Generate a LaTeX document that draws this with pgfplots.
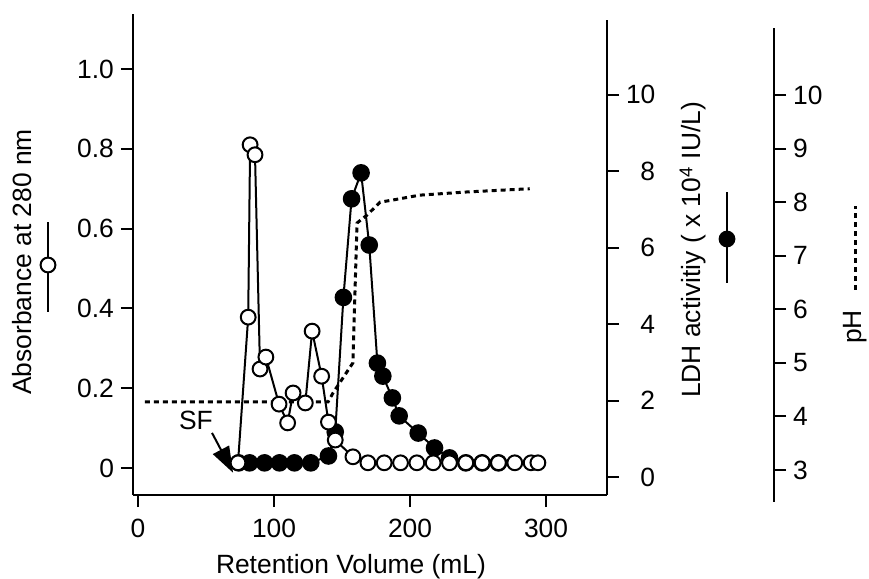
\documentclass[border=0pt]{standalone}
\usepackage{fontspec}
\setmainfont{Liberation Sans}
\usepackage{pgfplots}
\pgfplotsset{compat=1.18}
\usetikzlibrary{arrows.meta}
\newcommand\ff{\fontsize{13.2pt}{15.5pt}\selectfont}
\begin{document}
\begin{tikzpicture}
\path[use as bounding box] (-66.5pt,-42pt) rectangle (368pt,247.5pt);
\pgfplotsset{
 every axis/.append style={scale only axis, font=\ff,
   /pgf/number format/assume math mode=true,
   tick align=outside, major tick length=6pt,
   axis line style={line width=1pt},
   every tick/.style={black,line width=1pt}, clip=false},
}
% pH axis
\begin{axis}[at={(0pt,-3.5pt)}, anchor=south west, width=320.5pt, height=237pt,
 xmin=-3.7, xmax=467.6, ymin=2.403, ymax=11.25,
 axis x line=none, axis y line*=right, ytick={3,4,...,10}]
\addplot[black, line width=1.5pt, dash pattern=on 2.5pt off 2pt] coordinates {
(5,4.27) (139.7,4.27) (143.4,4.44) (158,5.0) (161,7.61) (168.4,7.76) (178,8.0) (187.5,8.04) (207,8.13) (242,8.19) (288,8.25)};
\end{axis}
% LDH axis
\begin{axis}[at={(0pt,0pt)}, anchor=south west, width=237pt, height=237.5pt,
 xmin=-3.7, xmax=344.8, ymin=-0.471, ymax=11.96,
 axis x line=none, axis y line*=right, ytick={0,2,...,10},
 yticklabel style={text width=14.5pt, align=right}]
\addplot[black, line width=1pt, mark=*, mark size=3.9pt, mark options={fill=black}] coordinates {
(74,0.37) (82,0.37) (93,0.37) (104,0.37) (115,0.37) (127,0.37) (140,0.55) (145,1.18) (151,4.7) (157,7.28) (164,7.96) (170,6.07) (176,2.98) (180,2.64) (187,2.07) (192,1.6) (206,1.15) (218,0.76) (229,0.5) (241,0.37) (253,0.37) (265,0.37)};
\end{axis}
% Absorbance axis
\begin{axis}[at={(0pt,0pt)}, anchor=south west, width=237pt, height=240.5pt,
 xmin=-3.7, xmax=344.8, ymin=-0.0677, ymax=1.1378,
 axis x line*=bottom, axis y line*=left, xtick={0,100,200,300},
 xticklabel style={yshift=-2.5pt},
 ytick={0,0.2,0.4,0.6,0.8,1.0}, yticklabels={0,0.2,0.4,0.6,0.8,1.0}]
\addplot[black, line width=1pt, mark=*, mark size=3.7pt, mark options={fill=white, draw=black, line width=1pt}] coordinates {
(73.5,0.013) (81,0.378) (82.4,0.81) (86,0.785) (89.7,0.248) (94,0.278) (103.7,0.16) (110,0.113) (114,0.188) (123,0.163) (128,0.343) (135,0.23) (140,0.115) (145,0.07) (158,0.028) (169,0.013) (181,0.013) (193,0.013) (205,0.013) (217,0.013) (229,0.013) (241,0.013) (253,0.013) (265,0.013) (277,0.013) (289,0.013) (294,0.013)};
\draw[line width=1pt, -{Triangle[length=13pt,width=9pt]}] (axis cs:54.4,0.088) -- (axis cs:69.9,-0.012);
\node[font=\ff] at (axis cs:42.6,0.118) {SF};
\end{axis}
\node[rotate=90, font=\ff] at (-55.5pt,116.5pt) {Absorbance at 280 nm};
\node[rotate=90, font=\ff] at (280pt,122.5pt) {LDH activitiy ( x 10\textsuperscript{4} IU/L)};
\node[font=\ff] at (109pt,-36pt) {Retention Volume (mL)};
\node[rotate=90, font=\ff] at (361pt,84pt) {pH};
\draw[line width=1pt] (-42.5pt,91.5pt) -- (-42.5pt,136.5pt);
\draw[line width=1pt, fill=white] (-42.5pt,115pt) circle (3.7pt);
\draw[line width=1pt] (297pt,106pt) -- (297pt,151.5pt);
\fill (297pt,128pt) circle (4.2pt);
\draw[line width=1.5pt, dash pattern=on 2.5pt off 2pt] (361pt,102.5pt) -- (361pt,144.5pt);
\end{tikzpicture}
\end{document}
